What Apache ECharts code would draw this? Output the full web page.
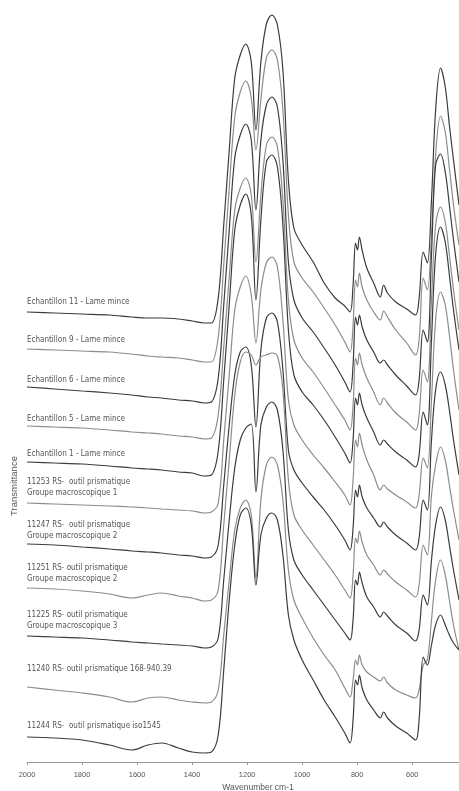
<!DOCTYPE html>
<html lang="fr">
<head>
    <meta charset="UTF-8">
    <title>Spectres IR</title>
    <script src="https://cdn.jsdelivr.net/npm/echarts@6/dist/echarts.min.js"></script>
    <style>
        html, body { margin: 0; padding: 0; background: #fff; }
        #main { width: 459px; height: 791px; }
    </style>
</head>
<body>
<div id="main"></div>
<script type="text/javascript">
    // nombres d'onde (cm-1) communs a tous les spectres
    var wavenumbers = [2000, 1900, 1800, 1700, 1620, 1560, 1510, 1450, 1400,
        1355, 1330, 1305, 1285, 1265, 1245, 1225, 1205, 1185, 1168,
        1150, 1130, 1110, 1090, 1070, 1050, 1030, 1000, 960, 920,
        880, 845, 826, 815, 806, 799, 792, 782, 765, 740,
        716, 704, 690, 660, 620, 588, 575, 560, 545, 530,
        515, 497, 480, 465, 450, 430];

    // spectres decales (echelle verticale en unites du graphique, 0 en haut)
    var ech11 = [312, 313, 314, 315, 317, 318, 318, 319, 321,
        323, 323, 298, 225, 150, 78, 55, 44, 62, 130,
        62, 24, 15, 25, 70, 180, 228, 245, 262, 283,
        298, 306, 312, 285, 243, 250, 237, 250, 268, 283,
        297, 285, 293, 302, 309, 315, 298, 252, 263, 200,
        110, 68, 87, 125, 160, 205];
    var ech9 = [349, 350, 351, 352, 354, 356, 357, 358, 360,
        362, 362, 337, 265, 188, 117, 92, 81, 98, 150,
        100, 58, 50, 60, 110, 215, 262, 278, 292, 308,
        325, 342, 352, 325, 280, 287, 273, 287, 300, 312,
        320, 311, 317, 330, 343, 355, 340, 278, 290, 235,
        155, 116, 132, 168, 205, 245];
    var ech6 = [387, 389, 391, 393, 395, 397, 398, 400, 401,
        403, 402, 378, 305, 230, 158, 135, 124, 140, 210,
        140, 105, 97, 107, 160, 262, 300, 318, 332, 348,
        365, 382, 392, 365, 317, 325, 315, 327, 340, 352,
        363, 360, 365, 375, 386, 395, 380, 330, 342, 255,
        165, 154, 172, 205, 240, 282];
    var ech5 = [426, 427, 428, 430, 432, 433, 434, 436, 437,
        439, 438, 415, 347, 277, 210, 188, 178, 195, 262,
        195, 145, 137, 147, 200, 300, 340, 358, 372, 388,
        405, 420, 430, 405, 358, 365, 353, 365, 378, 392,
        405, 398, 403, 413, 422, 430, 415, 370, 382, 300,
        225, 207, 222, 255, 290, 330];
    var ech1 = [462, 463, 464, 466, 468, 469, 470, 472, 473,
        476, 475, 451, 380, 305, 230, 205, 194, 215, 300,
        220, 162, 155, 167, 225, 330, 375, 392, 405, 420,
        437, 453, 463, 440, 398, 405, 393, 405, 418, 432,
        445, 440, 444, 452, 460, 467, 455, 412, 425, 340,
        255, 227, 242, 275, 310, 350];
    var rs11253 = [503, 504, 505, 506, 507, 508, 509, 510, 511,
        513, 512, 503, 440, 375, 310, 287, 276, 295, 343,
        290, 263, 257, 267, 320, 400, 425, 440, 455, 468,
        482, 495, 505, 480, 440, 447, 433, 445, 460, 475,
        490, 485, 489, 495, 502, 508, 495, 458, 468, 400,
        320, 292, 305, 335, 370, 410];
    var rs11247 = [544, 545, 547, 549, 551, 552, 553, 555, 556,
        558, 557, 545, 485, 425, 375, 352, 347, 365, 427,
        350, 318, 313, 322, 370, 450, 470, 483, 497, 510,
        525, 540, 550, 528, 490, 497, 485, 497, 508, 518,
        527, 522, 527, 535, 543, 550, 538, 500, 510, 440,
        390, 372, 385, 410, 440, 475];
    var rs11251 = [588, 589, 591, 594, 598, 595, 593, 596, 598,
        601, 600, 590, 525, 460, 395, 362, 352, 355, 365,
        357, 355, 353, 356, 390, 480, 515, 530, 545, 560,
        575, 590, 598, 575, 538, 543, 531, 542, 555, 565,
        575, 570, 574, 582, 590, 597, 585, 545, 555, 495,
        465, 447, 460, 485, 510, 540];
    var rs11225 = [636, 637, 638, 640, 642, 643, 644, 645, 646,
        648, 647, 638, 580, 520, 468, 440, 428, 424, 492,
        425, 407, 402, 410, 450, 530, 560, 575, 590, 605,
        620, 633, 640, 620, 580, 585, 572, 583, 597, 607,
        617, 612, 616, 625, 633, 641, 630, 595, 605, 560,
        525, 507, 520, 545, 570, 600];
    var rs11240 = [687, 690, 693, 697, 702, 698, 697, 700, 702,
        703, 702, 690, 635, 580, 530, 508, 500, 515, 578,
        500, 465, 457, 465, 500, 570, 600, 618, 638, 655,
        670, 688, 697, 680, 660, 665, 655, 665, 672, 677,
        681, 677, 683, 690, 695, 698, 690, 665, 660, 620,
        580, 560, 575, 600, 625, 650];
    var rs11244 = [737, 738, 740, 745, 750, 745, 743, 748, 752,
        753, 752, 735, 670, 600, 545, 515, 508, 525, 585,
        535, 518, 513, 520, 555, 615, 640, 660, 680, 700,
        717, 733, 743, 720, 680, 685, 675, 688, 700, 710,
        718, 712, 718, 726, 733, 740, 720, 657, 665, 645,
        625, 615, 625, 635, 643, 650];

    var names = [
        'Echantillon 11 - Lame mince',
        'Echantillon 9 - Lame mince',
        'Echantillon 6 - Lame mince',
        'Echantillon 5 - Lame mince',
        'Echantillon 1 - Lame mince',
        '11253 RS-  outil prismatique\nGroupe macroscopique 1',
        '11247 RS-  outil prismatique\nGroupe macroscopique 2',
        '11251 RS- outil prismatique\nGroupe macroscopique 2',
        '11225 RS- outil prismatique\nGroupe macroscopique 3',
        '11240 RS- outil prismatique 168-940.39',
        '11244 RS-  outil prismatique iso1545'
    ];
    var xTicks = [2000, 1800, 1600, 1400, 1200, 1000, 800, 600];

    var spectra = [ech11, ech9, ech6, ech5, ech1, rs11253, rs11247, rs11251, rs11225, rs11240, rs11244];
    var lineColors = ['#3c3c3c', '#8c8c8c', '#3c3c3c', '#8c8c8c', '#3c3c3c', '#8c8c8c',
        '#3c3c3c', '#8c8c8c', '#3c3c3c', '#8c8c8c', '#3c3c3c'];
    var labelGap = [5, 4, 2, 2, 3, 5, 3, 4, 5, 13, 6];
    var labelFont = "'Liberation Sans Narrow', 'DejaVu Sans Condensed', sans-serif";

    var myChart = echarts.init(document.getElementById('main'));

    var series = spectra.map(function (vals, i) {
        return {
            name: names[i],
            type: 'line',
            data: wavenumbers.map(function (w, j) { return [w, vals[j]]; }),
            showSymbol: false,
            smooth: 0.35,
            silent: true,
            lineStyle: { width: 1.2, color: lineColors[i] }
        };
    });

    myChart.setOption({
        animation: false,
        grid: { left: 27, right: 0, top: 0, bottom: 29, outerBoundsMode: 'none' },
        xAxis: {
            type: 'value',
            inverse: true,
            min: 430,
            max: 2000,
            splitLine: { show: false },
            axisLine: { onZero: false, lineStyle: { color: '#9a9a9a', width: 1 } },
            axisTick: { show: true, length: 3, customValues: xTicks, lineStyle: { color: '#9a9a9a' } },
            axisLabel: {
                margin: 9,
                fontSize: 7.5,
                color: '#555',
                customValues: xTicks,
                fontFamily: 'Liberation Sans, Arial, sans-serif',
                formatter: function (v) { return String(v); }
            }
        },
        yAxis: { type: 'value', inverse: true, min: 0, max: 762, show: false },
        series: series
    });

    var graphics = names.map(function (txt, i) {
        var p = myChart.convertToPixel({ gridIndex: 0 }, [2000, spectra[i][0]]);
        return {
            type: 'text',
            x: p[0],
            y: p[1] - labelGap[i],
            silent: true,
            style: {
                text: txt,
                fill: '#555',
                fontSize: 8,
                lineHeight: 11,
                fontFamily: labelFont,
                align: 'left',
                verticalAlign: 'bottom'
            }
        };
    });
    graphics.push({
        type: 'text', x: 258, y: 788, silent: true,
        style: { text: 'Wavenumber cm-1', fill: '#555', fontSize: 8.5,
            fontFamily: 'Liberation Sans, Arial, sans-serif', align: 'center', verticalAlign: 'middle' }
    });
    graphics.push({
        type: 'text', x: 14, y: 486, rotation: Math.PI / 2, silent: true,
        style: { text: 'Transmittance', fill: '#555', fontSize: 9.5,
            fontFamily: 'Liberation Sans, Arial, sans-serif', align: 'center', verticalAlign: 'middle' }
    });
    myChart.setOption({ graphic: graphics });
</script>
</body>
</html>
